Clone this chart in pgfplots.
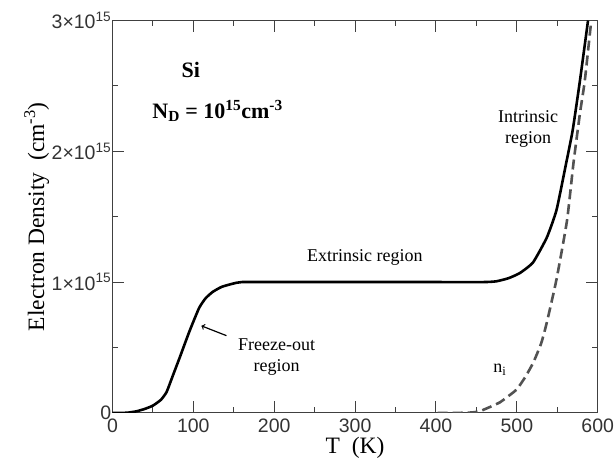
\documentclass[border=0pt]{standalone}
\usepackage{fontspec}
\setmainfont{Liberation Serif}
\setsansfont{Liberation Sans}
\usepackage{pgfplots}
\pgfplotsset{compat=1.18}

\begin{document}
\begin{tikzpicture}
\begin{axis}[
  scale only axis,
  width=485.5pt, height=392.5pt,
  xmin=0, xmax=600,
  ymin=0, ymax=3,
  xtick={0,100,200,300,400,500,600},
  xticklabels={0,100,200,300,400,500,600},
  ytick={0,1,2,3},
  yticklabels={0\hspace{5pt},1×10\textsuperscript{15},2×10\textsuperscript{15},3×10\textsuperscript{15}},
  minor x tick num=1,
  minor y tick num=1,
  major tick length=12pt,
  minor tick length=6pt,
  axis line style={line width=1.2pt, draw=black!75},
  every tick/.style={line width=1pt, black!75},
  tick label style={font=\sffamily\fontsize{19.5}{19.5}\selectfont, text=black!80},
  yticklabel style={inner sep=1pt},
  xticklabel style={inner sep=2pt},
  xticklabel shift=4pt,
  xlabel={T\ \ (K)},
  ylabel={Electron Density\ \ (cm\textsuperscript{-3})},
  label style={font=\fontsize{23.5}{23.5}\selectfont},
  xlabel style={yshift=1pt},
  ylabel style={yshift=-2pt},
]
% n (solid)
\addplot[black, line width=2.6pt, no marks, smooth, tension=0.3] coordinates {
  (0,0)(15,0)(20,0.002)(30,0.012)(40,0.03)(50,0.055)(60,0.1)(67,0.16)
  (75,0.29)(83,0.42)(95,0.62)(107,0.8)(115,0.875)(124,0.925)(135,0.963)
  (149,0.988)(160,1.0)(200,1.0)(300,1.0)(400,1.0)(460,1.0)(475,1.006)
  (490,1.03)(504,1.07)(520,1.15)(537,1.34)(549,1.55)(561,1.91)(569,2.16)
  (578,2.54)(588,3.0)};
% n_i (dashed)
\addplot[black!68, line width=2.6pt, no marks, dash pattern=on 10pt off 5pt, smooth, tension=0.3] coordinates {
  (402,0)(430,0)(445,0.003)(454,0.012)(465,0.04)(479,0.08)(490,0.13)
  (500,0.18)(510,0.27)(520,0.38)(530,0.53)(537,0.69)(549,1.02)(562,1.47)
  (570,1.91)(578,2.29)(584,2.54)(592,3.0)};
% annotations
\node[font=\bfseries\fontsize{22}{22}\selectfont] at (axis cs:97,2.62) {Si};
\node[font=\bfseries\fontsize{22}{22}\selectfont] at (axis cs:130,2.31) {N\textsubscript{D} = 10\textsuperscript{15}cm\textsuperscript{-3}};
\node[font=\fontsize{18}{18}\selectfont] at (axis cs:312,1.19) {Extrinsic region};
\node[font=\fontsize{18}{21}\selectfont, align=center] at (axis cs:203,0.43) {Freeze-out\\region};
\node[font=\fontsize{18}{21}\selectfont, align=center] at (axis cs:514,2.17) {Intrinsic\\region};
\node[font=\fontsize{18}{18}\selectfont] at (axis cs:479,0.33) {n\textsubscript{i}};
\draw[->, line width=1.2pt] (axis cs:141,0.59) -- (axis cs:110,0.665);
\end{axis}
\path (current axis.south west) ++(-112.5pt,-50pt) rectangle ++(616pt,463pt);
\end{tikzpicture}
\end{document}
